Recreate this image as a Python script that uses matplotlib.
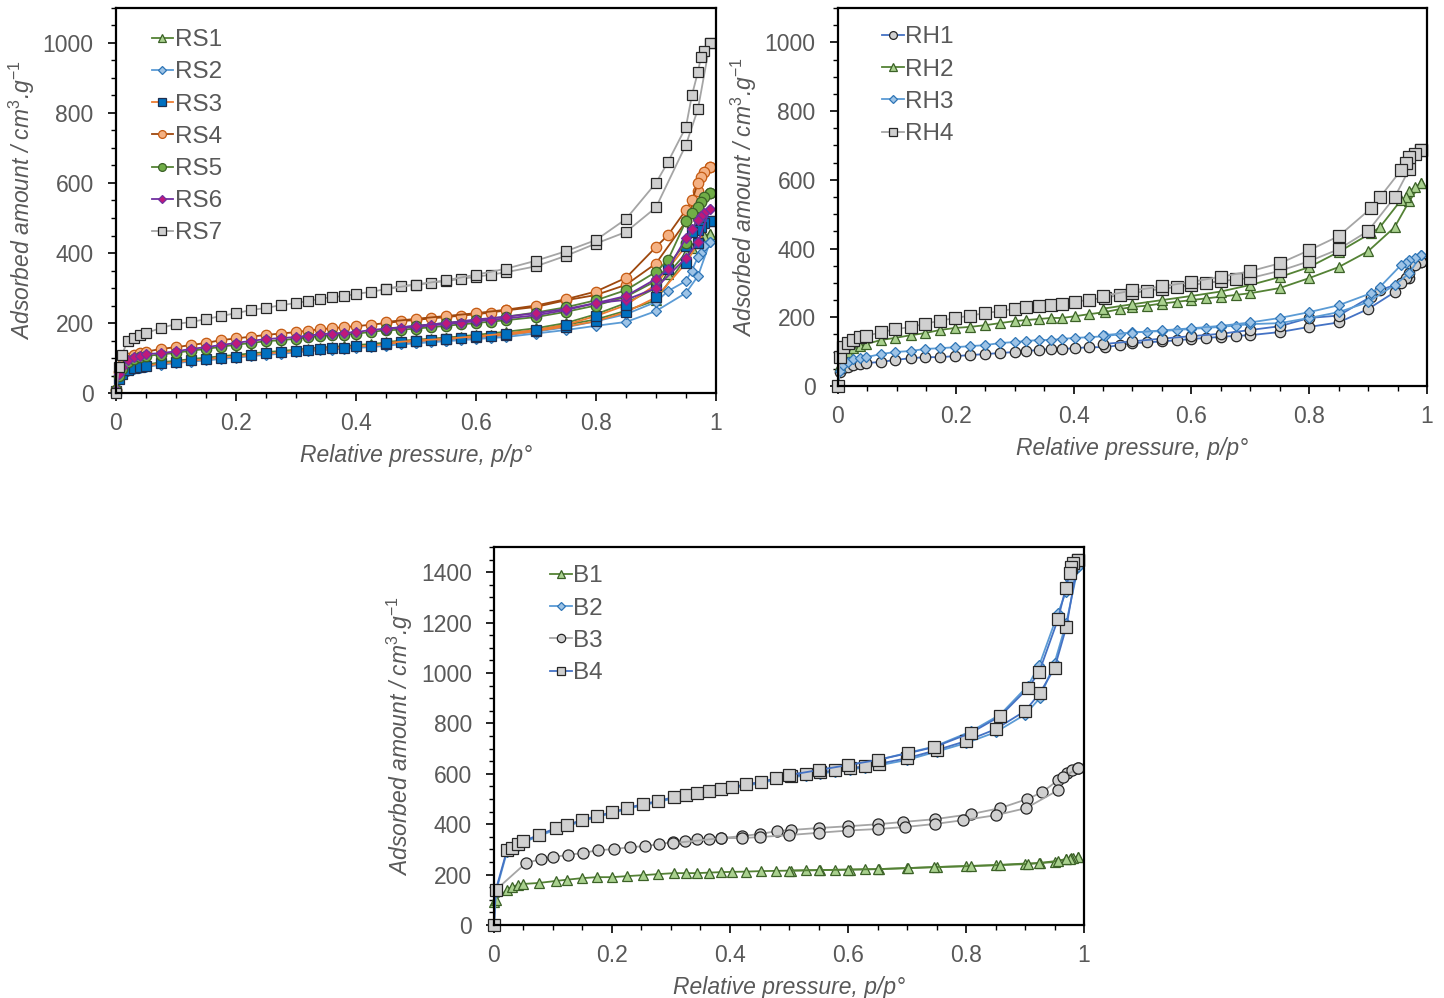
import matplotlib
matplotlib.use("Agg")
import matplotlib.pyplot as plt
from matplotlib.ticker import MultipleLocator

plt.rcParams['font.family'] = ['Liberation Sans', 'DejaVu Sans']
plt.rcParams['mathtext.fontset'] = 'custom'
plt.rcParams['mathtext.it'] = 'Liberation Sans:italic'
plt.rcParams['mathtext.rm'] = 'Liberation Sans'
plt.rcParams['mathtext.default'] = 'it'

GREY = '#595959'

# ---------------- RS series (top left) ----------------
p_rs_ads = [0.0, 0.005, 0.01, 0.02, 0.03, 0.04, 0.05, 0.075, 0.1, 0.125, 0.15, 0.175, 0.2,
            0.225, 0.25, 0.275, 0.3, 0.32, 0.34, 0.36, 0.38, 0.4, 0.425, 0.45, 0.475, 0.5,
            0.525, 0.55, 0.575, 0.6, 0.625, 0.65, 0.7, 0.75, 0.8, 0.85, 0.9, 0.95, 0.97, 0.99]
p_rs_des = [0.99, 0.98, 0.975, 0.97, 0.96, 0.95, 0.92, 0.9, 0.85, 0.8, 0.75, 0.7, 0.65, 0.6,
            0.55, 0.5, 0.45]

rs1_ads = [5, 42, 58, 70, 75, 78, 81, 88, 92, 97, 101, 105, 109, 113, 117, 120, 124, 127, 130,
           132, 134, 137, 140, 144, 148, 151, 154, 157, 160, 163, 166, 169, 180, 195, 210, 235,
           265, 386, 430, 455]
rs1_des = [455, 450, 440, 430, 415, 400, 340, 300, 257, 225, 200, 185, 175, 166, 158, 152, 146]
rs2_ads = [5, 38, 52, 63, 68, 71, 74, 81, 85, 90, 93, 97, 101, 105, 109, 112, 116, 119, 122,
           124, 126, 129, 131, 135, 139, 142, 145, 148, 151, 154, 157, 160, 170, 180, 192, 203,
           234, 286, 334, 431]
rs2_des = [431, 420, 400, 389, 350, 320, 291, 260, 225, 205, 188, 175, 165, 157, 150, 144, 138]
rs3_ads = [5, 40, 55, 66, 71, 74, 77, 85, 88, 93, 96, 101, 104, 108, 113, 116, 120, 123, 126,
           128, 130, 133, 135, 140, 145, 148, 151, 154, 157, 160, 163, 166, 177, 190, 205, 231,
           273, 371, 428, 491]
rs3_des = [491, 486, 475, 466, 460, 420, 354, 310, 251, 220, 195, 180, 170, 162, 155, 150, 143]
rs4_ads = [10, 60, 80, 100, 108, 113, 118, 126, 131, 137, 143, 151, 156, 161, 166, 170, 174,
           178, 182, 185, 188, 191, 195, 200, 205, 209, 213, 217, 221, 225, 230, 236, 246, 265,
           280, 309, 370, 490, 577, 645]
rs4_des = [645, 631, 617, 600, 550, 523, 451, 417, 329, 290, 268, 250, 238, 228, 220, 212, 203]
rs5_ads = [8, 50, 70, 90, 97, 102, 106, 110, 115, 121, 126, 132, 138, 143, 148, 151, 155, 159,
           163, 165, 167, 169, 175, 179, 181, 184, 188, 192, 196, 200, 204, 208, 217, 232, 250,
           275, 320, 430, 500, 571]
rs5_des = [571, 560, 546, 531, 514, 491, 380, 346, 294, 265, 245, 230, 218, 208, 200, 192, 183]
rs6_ads = [8, 55, 75, 95, 102, 107, 111, 114, 119, 126, 131, 137, 143, 149, 154, 157, 160, 164,
           168, 170, 172, 174, 180, 184, 186, 189, 193, 197, 201, 205, 209, 213, 222, 237, 257,
           266, 300, 386, 431, 526]
rs6_des = [526, 514, 505, 495, 469, 443, 354, 326, 277, 257, 240, 228, 218, 210, 200, 192, 184]
rs7_ads = [0, 75, 110, 150, 158, 165, 171, 186, 197, 203, 211, 220, 228, 237, 243, 251, 257,
           263, 269, 274, 277, 283, 289, 297, 306, 309, 315, 320, 326, 332, 338, 345, 362, 392,
           427, 460, 530, 709, 811, 1000]
rs7_des = [1000, 977, 960, 917, 851, 760, 660, 600, 497, 437, 405, 378, 355, 338, 322, 310, 297]

# ---------------- RH series (top right) ----------------
p_rh_ads = [0.0, 0.003, 0.008, 0.017, 0.025, 0.037, 0.048, 0.073, 0.097, 0.124, 0.148, 0.173,
            0.199, 0.224, 0.25, 0.275, 0.3, 0.32, 0.341, 0.361, 0.38, 0.402, 0.426, 0.453,
            0.479, 0.5, 0.525, 0.55, 0.575, 0.6, 0.625, 0.65, 0.675, 0.7, 0.75, 0.8, 0.85,
            0.9, 0.945, 0.97, 0.99]
p_rh_des = [0.99, 0.98, 0.97, 0.964, 0.956, 0.92, 0.905, 0.85, 0.8, 0.75, 0.7, 0.65, 0.6,
            0.55, 0.5, 0.45]

rh1_ads = [0, 41, 52, 55, 61, 64, 67, 70, 76, 81, 84, 84, 87, 90, 93, 96, 99, 102, 105, 108,
           108, 110, 113, 113, 119, 125, 127, 130, 133, 137, 140, 143, 146, 148, 157, 172, 185,
           224, 273, 314, 360]
rh1_des = [360, 352, 330, 314, 300, 279, 260, 205, 198, 174, 163, 152, 145, 138, 130, 122]
rh2_ads = [0, 60, 85, 100, 110, 116, 122, 134, 140, 148, 154, 163, 169, 172, 177, 183, 189,
           192, 195, 198, 198, 203, 209, 215, 224, 230, 234, 240, 245, 250, 255, 260, 265, 270,
           285, 314, 346, 392, 462, 538, 590]
rh2_des = [590, 579, 567, 549, 541, 462, 445, 390, 346, 317, 294, 275, 262, 250, 238, 225]
rh3_ads = [0, 45, 61, 70, 78, 81, 84, 93, 99, 102, 108, 110, 113, 116, 119, 125, 128, 131, 134,
           134, 137, 140, 142, 145, 151, 157, 158, 160, 163, 166, 169, 172, 176, 180, 183, 198,
           215, 244, 294, 328, 381]
rh3_des = [381, 372, 366, 357, 352, 288, 270, 235, 215, 198, 185, 175, 168, 162, 155, 148]
rh4_ads = [0, 84, 113, 125, 134, 142, 145, 157, 165, 172, 181, 190, 198, 205, 212, 218, 225,
           229, 233, 237, 240, 245, 251, 257, 265, 270, 277, 283, 288, 294, 300, 305, 310, 314,
           335, 363, 398, 451, 549, 631, 686]
rh4_des = [686, 674, 666, 648, 628, 549, 517, 436, 395, 357, 334, 318, 303, 290, 278, 262]

# ---------------- B series (bottom) ----------------
p_b_ads = [0.0, 0.003, 0.022, 0.03, 0.04, 0.049, 0.076, 0.105, 0.124, 0.149, 0.174, 0.2, 0.225,
           0.253, 0.278, 0.305, 0.325, 0.344, 0.364, 0.385, 0.404, 0.427, 0.452, 0.478, 0.503,
           0.528, 0.553, 0.578, 0.603, 0.628, 0.653, 0.7, 0.75, 0.8, 0.85, 0.9, 0.925, 0.95,
           0.97, 0.99]
p_b_des = [0.99, 0.981, 0.978, 0.976, 0.969, 0.956, 0.924, 0.905, 0.858, 0.808, 0.746, 0.702,
           0.65, 0.6, 0.55, 0.5]

b1_ads = [91, 100, 140, 151, 159, 163, 167, 175, 180, 186, 190, 190, 194, 198, 202, 206, 206,
          206, 208, 210, 211, 212, 214, 215, 216, 217, 218, 219, 220, 221, 222, 226, 230, 234,
          238, 244, 246, 250, 262, 270]
b1_des = [270, 268, 266, 264, 262, 255, 246, 242, 238, 234, 230, 226, 222, 220, 218, 216]
b2_ads = [0, 130, 290, 300, 315, 328, 352, 380, 392, 412, 428, 444, 460, 476, 488, 503, 511,
          519, 527, 534, 542, 554, 562, 578, 586, 593, 601, 609, 617, 625, 634, 655, 688, 722,
          765, 835, 900, 1040, 1200, 1420]
b2_des = [1420, 1400, 1385, 1368, 1320, 1238, 1030, 950, 835, 768, 708, 684, 655, 635, 615, 595]
b4_ads = [0, 139, 297, 306, 321, 333, 357, 385, 397, 417, 432, 448, 464, 480, 492, 508, 516,
          524, 532, 539, 547, 559, 567, 583, 591, 598, 606, 614, 622, 630, 640, 662, 694, 730,
          777, 849, 920, 1019, 1182, 1448]
b4_des = [1448, 1436, 1420, 1396, 1337, 1214, 1004, 940, 829, 762, 706, 682, 655, 635, 615, 595]

p_b3_a = [0.0, 0.003, 0.054, 0.08, 0.1, 0.125, 0.151, 0.176, 0.203, 0.23, 0.256, 0.28, 0.303,
          0.323, 0.344, 0.364, 0.385, 0.42, 0.45, 0.48, 0.503, 0.55, 0.6, 0.65, 0.693, 0.747,
          0.808, 0.858, 0.904, 0.929, 0.956, 0.971, 0.98, 0.99]
b3_a = [0, 139, 246, 262, 270, 278, 286, 297, 301, 309, 313, 321, 329, 333, 341, 341, 345, 353,
        361, 373, 377, 385, 392, 400, 409, 420, 440, 464, 500, 527, 575, 603, 615, 623]
p_b3_b = [0.99, 0.965, 0.956, 0.902, 0.851, 0.795, 0.747, 0.697, 0.65, 0.6, 0.55, 0.5, 0.45,
          0.42, 0.385, 0.303]
b3_b = [623, 587, 535, 464, 436, 416, 401, 389, 381, 375, 366, 357, 349, 345, 345, 325]

# styles: (marker, size, line colour, face, edge)
STY = {
    'RS1': ('^', 7, '#548235', '#a9d18e', '#3b6127'),
    'RS2': ('D', 5.5, '#5b9bd5', '#9dc3e6', '#2e75b6'),
    'RS3': ('s', 7, '#ed7d31', '#0070c0', '#1f2f4f'),
    'RS4': ('o', 7.5, '#9e480e', '#f4b183', '#c55a11'),
    'RS5': ('o', 7.5, '#548235', '#70ad47', '#3b6127'),
    'RS6': ('D', 5.5, '#7030a0', '#c0187a', '#7030a0'),
    'RS7': ('s', 7, '#a5a5a5', '#d0d0d0', '#262626'),
    'RH1': ('o', 7.5, '#4472c4', '#d0d0d0', '#262626'),
    'RH2': ('^', 7.5, '#548235', '#a9d18e', '#3b6127'),
    'RH3': ('D', 5.5, '#5b9bd5', '#9dc3e6', '#2e75b6'),
    'RH4': ('s', 8, '#a5a5a5', '#d0d0d0', '#262626'),
    'B1': ('^', 7.5, '#548235', '#a9d18e', '#3b6127'),
    'B2': ('D', 5.5, '#5b9bd5', '#9dc3e6', '#2e75b6'),
    'B3': ('o', 8, '#a5a5a5', '#d0d0d0', '#262626'),
    'B4': ('s', 8, '#4472c4', '#d0d0d0', '#262626'),
}


def draw(ax, name, branches):
    m, ms, lc, fc, ec = STY[name]
    for i, (px, py) in enumerate(branches):
        ax.plot(px, py, color=lc, lw=1.3, marker=m, ms=ms, mfc=fc, mec=ec, mew=0.9,
                label=name if i == 0 else None)


def style(ax, ymax, ymaj, legx, legy):
    ax.set_xlim(0, 1)
    ax.set_ylim(0, ymax)
    ax.xaxis.set_major_locator(MultipleLocator(0.2))
    ax.xaxis.set_minor_locator(MultipleLocator(0.05))
    ax.yaxis.set_major_locator(MultipleLocator(ymaj))
    ax.yaxis.set_minor_locator(MultipleLocator(50))
    ax.xaxis.set_major_formatter(plt.FuncFormatter(lambda v, p: '%g' % round(v, 2)))
    for s in ax.spines.values():
        s.set_linewidth(1.6)
        s.set_color('black')
    ax.tick_params(which='major', direction='out', length=6, width=1.2, colors='black',
                   labelcolor=GREY, labelsize=16.5)
    ax.tick_params(which='minor', direction='out', length=3.5, width=1.0, colors='black')
    ax.tick_params(axis='x', pad=8)
    ax.tick_params(axis='y', pad=10)
    ax.set_xlabel('Relative pressure, p/p\u00b0', fontsize=16.5, style='italic', color=GREY,
                  labelpad=6)
    ax.set_ylabel('Adsorbed amount / cm$^{3}$.g$^{-1}$', fontsize=16.5, style='italic',
                  color=GREY, labelpad=4)
    for ln in ax.lines:
        ln.set_clip_on(False)
    leg = ax.legend(loc='upper left', bbox_to_anchor=(legx, legy), frameon=False,
                    fontsize=17.5, handlelength=0.9, handletextpad=0.05, labelspacing=0.42,
                    borderaxespad=0.2, markerscale=0.75)
    for t in leg.get_texts():
        t.set_color(GREY)


fig = plt.figure(figsize=(14.44, 9.98), dpi=100)
ax1 = fig.add_axes([0.0803, 0.6062, 0.4155, 0.3858])
ax2 = fig.add_axes([0.5803, 0.6132, 0.4079, 0.3788])
ax3 = fig.add_axes([0.3421, 0.0731, 0.4086, 0.3788])

draw(ax1, 'RS1', [(p_rs_ads, rs1_ads), (p_rs_des, rs1_des)])
draw(ax1, 'RS2', [(p_rs_ads, rs2_ads), (p_rs_des, rs2_des)])
draw(ax1, 'RS3', [(p_rs_ads, rs3_ads), (p_rs_des, rs3_des)])
draw(ax1, 'RS4', [(p_rs_ads, rs4_ads), (p_rs_des, rs4_des)])
draw(ax1, 'RS5', [(p_rs_ads, rs5_ads), (p_rs_des, rs5_des)])
draw(ax1, 'RS6', [(p_rs_ads, rs6_ads), (p_rs_des, rs6_des)])
draw(ax1, 'RS7', [(p_rs_ads, rs7_ads), (p_rs_des, rs7_des)])
style(ax1, 1100, 200, 0.035, 0.983)

draw(ax2, 'RH1', [(p_rh_ads, rh1_ads), (p_rh_des, rh1_des)])
draw(ax2, 'RH2', [(p_rh_ads, rh2_ads), (p_rh_des, rh2_des)])
draw(ax2, 'RH3', [(p_rh_ads, rh3_ads), (p_rh_des, rh3_des)])
draw(ax2, 'RH4', [(p_rh_ads, rh4_ads), (p_rh_des, rh4_des)])
style(ax2, 1100, 200, 0.05, 0.99)

draw(ax3, 'B1', [(p_b_ads, b1_ads), (p_b_des, b1_des)])
draw(ax3, 'B2', [(p_b_ads, b2_ads), (p_b_des, b2_des)])
draw(ax3, 'B3', [(p_b3_a, b3_a), (p_b3_b, b3_b)])
draw(ax3, 'B4', [(p_b_ads, b4_ads), (p_b_des, b4_des)])
style(ax3, 1500, 200, 0.07, 0.99)

fig.savefig('out.png', dpi=100)
